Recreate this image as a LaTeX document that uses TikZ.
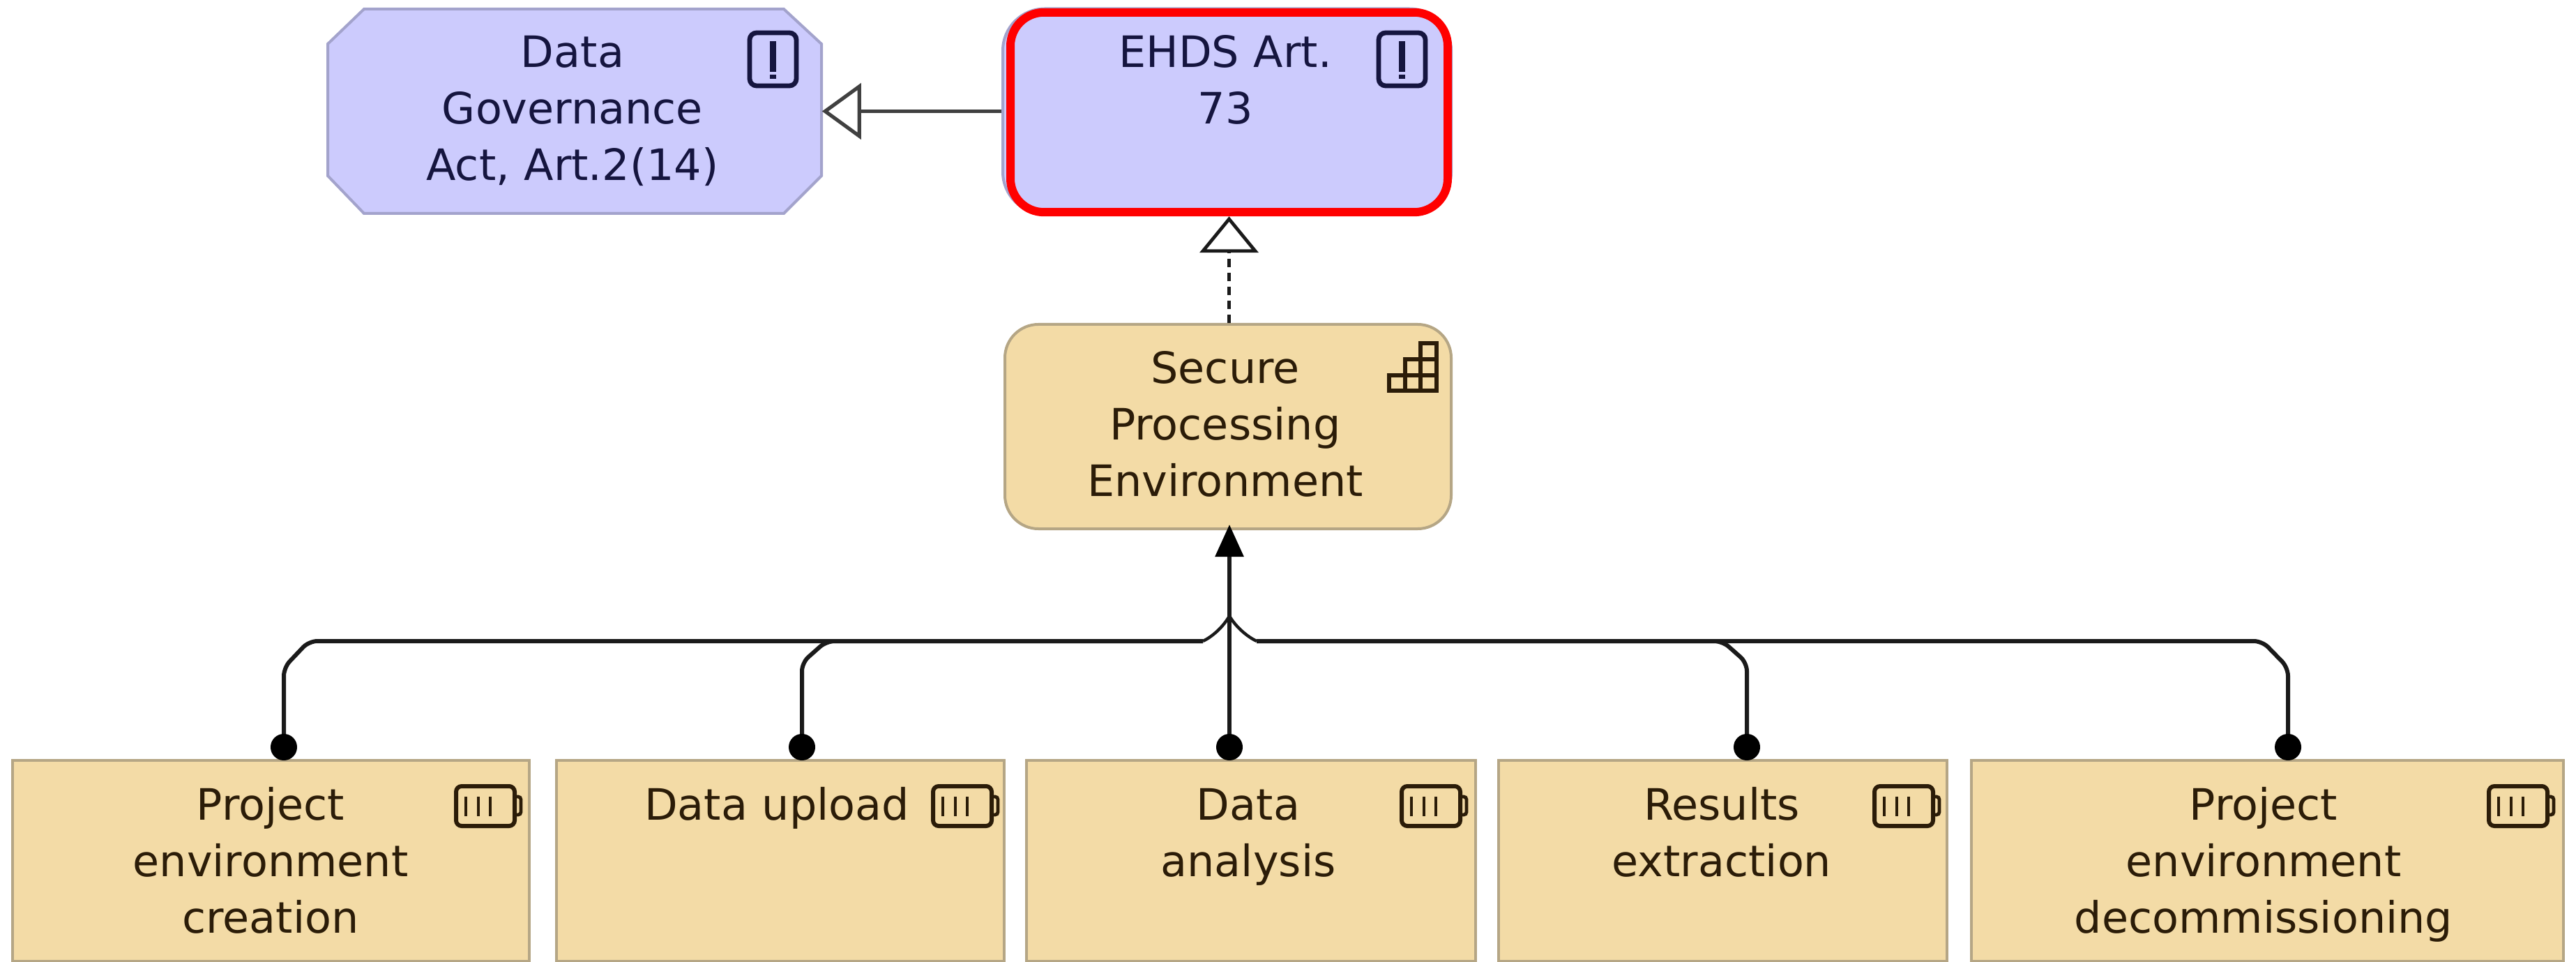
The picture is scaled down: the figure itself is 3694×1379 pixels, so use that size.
\documentclass[tikz,border=0pt]{standalone}
\usepackage{fontspec}
\setmainfont{DejaVu Sans}
\usetikzlibrary{arrows.meta}
\definecolor{reqfill}{HTML}{CCCBFD}
\definecolor{reqline}{HTML}{A3A3CC}
\definecolor{reqink}{HTML}{15153F}
\definecolor{tanfill}{HTML}{F3DBA6}
\definecolor{tanline}{HTML}{B5A685}
\definecolor{tanink}{HTML}{2B1C08}
\definecolor{wireink}{HTML}{1A1A1A}
\tikzset{
    txt/.style={anchor=base,inner sep=0pt,text width=170pt,align=center,font=\fontsize{15.5}{20.25}\selectfont},
    reqtxt/.style={txt,text=reqink},
    tantxt/.style={txt,text=tanink},
    tanbox/.style={draw=tanline,line width=1pt,fill=tanfill,inner sep=0pt},
    wire/.style={draw=wireink,line width=1.5pt,line join=round},
    alerticon/.pic={
        \draw [reqink,line width=1.7pt,rounded corners=2.5pt] (0,0) rectangle (67,76);
        \fill [reqink] (29,12) rectangle (38,56);
        \fill [reqink] (29,60) rectangle (38,66);
    },
    batteryicon/.pic={
        \draw [tanink,line width=1.5pt,rounded corners=2pt] (0,0) rectangle (84,57);
        \draw [tanink,line width=1.2pt,rounded corners=1pt] (84,15) -- (93,15) -- (93,41) -- (84,41);
        \foreach \i in {14,32,49}{
            \draw [tanink,line width=1pt] (\i,15) -- (\i,43);
        }
    },
    stairicon/.pic={
        \draw [tanink,line width=1.4pt] (0,68) rectangle (68,46);
        \draw [tanink,line width=1.4pt] (23,68) rectangle (68,23);
        \draw [tanink,line width=1.4pt] (45,68) rectangle (68,0);
    }
}
\begin{document}
\begin{tikzpicture}[x=.25pt,y=-.25pt]
        \useasboundingbox (0,0) rectangle (3694,1379);
        \draw [draw=reqline,line width=1pt,fill=reqfill] (522,13) -- (1124,13) -- (1178,63) -- (1178,252) -- (1124,306) -- (522,306) -- (470,252) -- (470,63) -- cycle;
        \node (dg) at (824,159.5) [inner sep=0pt,minimum width=177pt,minimum height=73.25pt] {};
        \node (ehds) at (1759.5,159.5) [rounded corners=15pt,draw=reqline,line width=1pt,fill=reqfill,inner sep=0pt,minimum width=160.75pt,minimum height=73.5pt] {};
        \node (mark) at (1762.5,161) [rounded corners=12pt,draw=red,line width=3pt,inner sep=0pt,minimum width=156.75pt,minimum height=71.6pt] {};
        \node (spe) at (1761,611.5) [tanbox,rounded corners=12pt,minimum width=160pt,minimum height=73.25pt] {};
        \node [reqtxt] (dgtxt) at (821,97) {Data\\Governance\\Act, Art.2(14)};
        \node [reqtxt] (ehdstxt) at (1757,97) {EHDS Art.\\73};
        \node [tantxt] (spetxt) at (1757,550) {Secure\\Processing\\Environment};
        \pic at (1075,47) {alerticon};
        \pic at (1977,47) {alerticon};
        \pic at (1992,492) {stairicon};
        \foreach \n/\l/\r/\p/\c/\b/\t in {
            one/18/759/407/388/654/{Project\\environment\\creation},
            two/798/1440/1150/1114/1338/{Data upload},
            three/1472/2116/1763/1790/2010/{Data\\analysis},
            four/2149/2792/2505/2469/2688/{Results\\extraction},
            five/2827/3676/3281/3246/3569/{Project\\environment\\decommissioning}}{
            \node [tanbox,minimum width=(\r-\l)*.25pt,minimum height=72pt] (\n) at ({(\l+\r)/2},1234) {};
            \coordinate (\n pin) at (\p,1090);
            \node [tantxt] (\n txt) at (\c,1175) {\t};
            \pic at (\b,1127) {batteryicon};
        }
        \coordinate (hopl) at (1725,919);
        \coordinate (hopr) at (1802,919);
        \coordinate (hopt) at (1763,883);
        \coordinate (spein) at (1763,752);
        \draw [draw=black!75,line width=1.3pt,-{Triangle[open,length=14pt,width=20pt]}] (ehds.west) -- (dg.east);
        \draw [wire,line width=1.2pt,dash pattern=on 3pt off 2pt,-{Triangle[open,length=13pt,width=21pt]}] (spe.north -| mark.south) -- (mark.south);
        \draw [wire,{Circle[black,length=9.5pt,width=9.5pt]}-{Triangle[black,length=11.5pt,width=10pt]}] (threepin) -- (spein);
        \draw [wire,rounded corners=3pt,{Circle[black,length=9.5pt,width=9.5pt]}-] (onepin) -- (407,957) -- (443,919) -- (hopl);
        \draw [wire,rounded corners=3pt,{Circle[black,length=9.5pt,width=9.5pt]}-] (twopin) -- (1150,950) -- (1185,919) -- (hopl);
        \draw [wire,rounded corners=3pt,{Circle[black,length=9.5pt,width=9.5pt]}-] (fourpin) -- (2505,950) -- (2470,919) -- (hopr);
        \draw [wire,rounded corners=3pt,{Circle[black,length=9.5pt,width=9.5pt]}-] (fivepin) -- (3281,957) -- (3244,919) -- (hopr);
        \draw [wire,line width=1.1pt] (hopl) .. controls (1740,912) and (1755,897) .. (hopt) .. controls (1771,897) and (1787,912) .. (hopr);

        \end{tikzpicture}
\end{document}
